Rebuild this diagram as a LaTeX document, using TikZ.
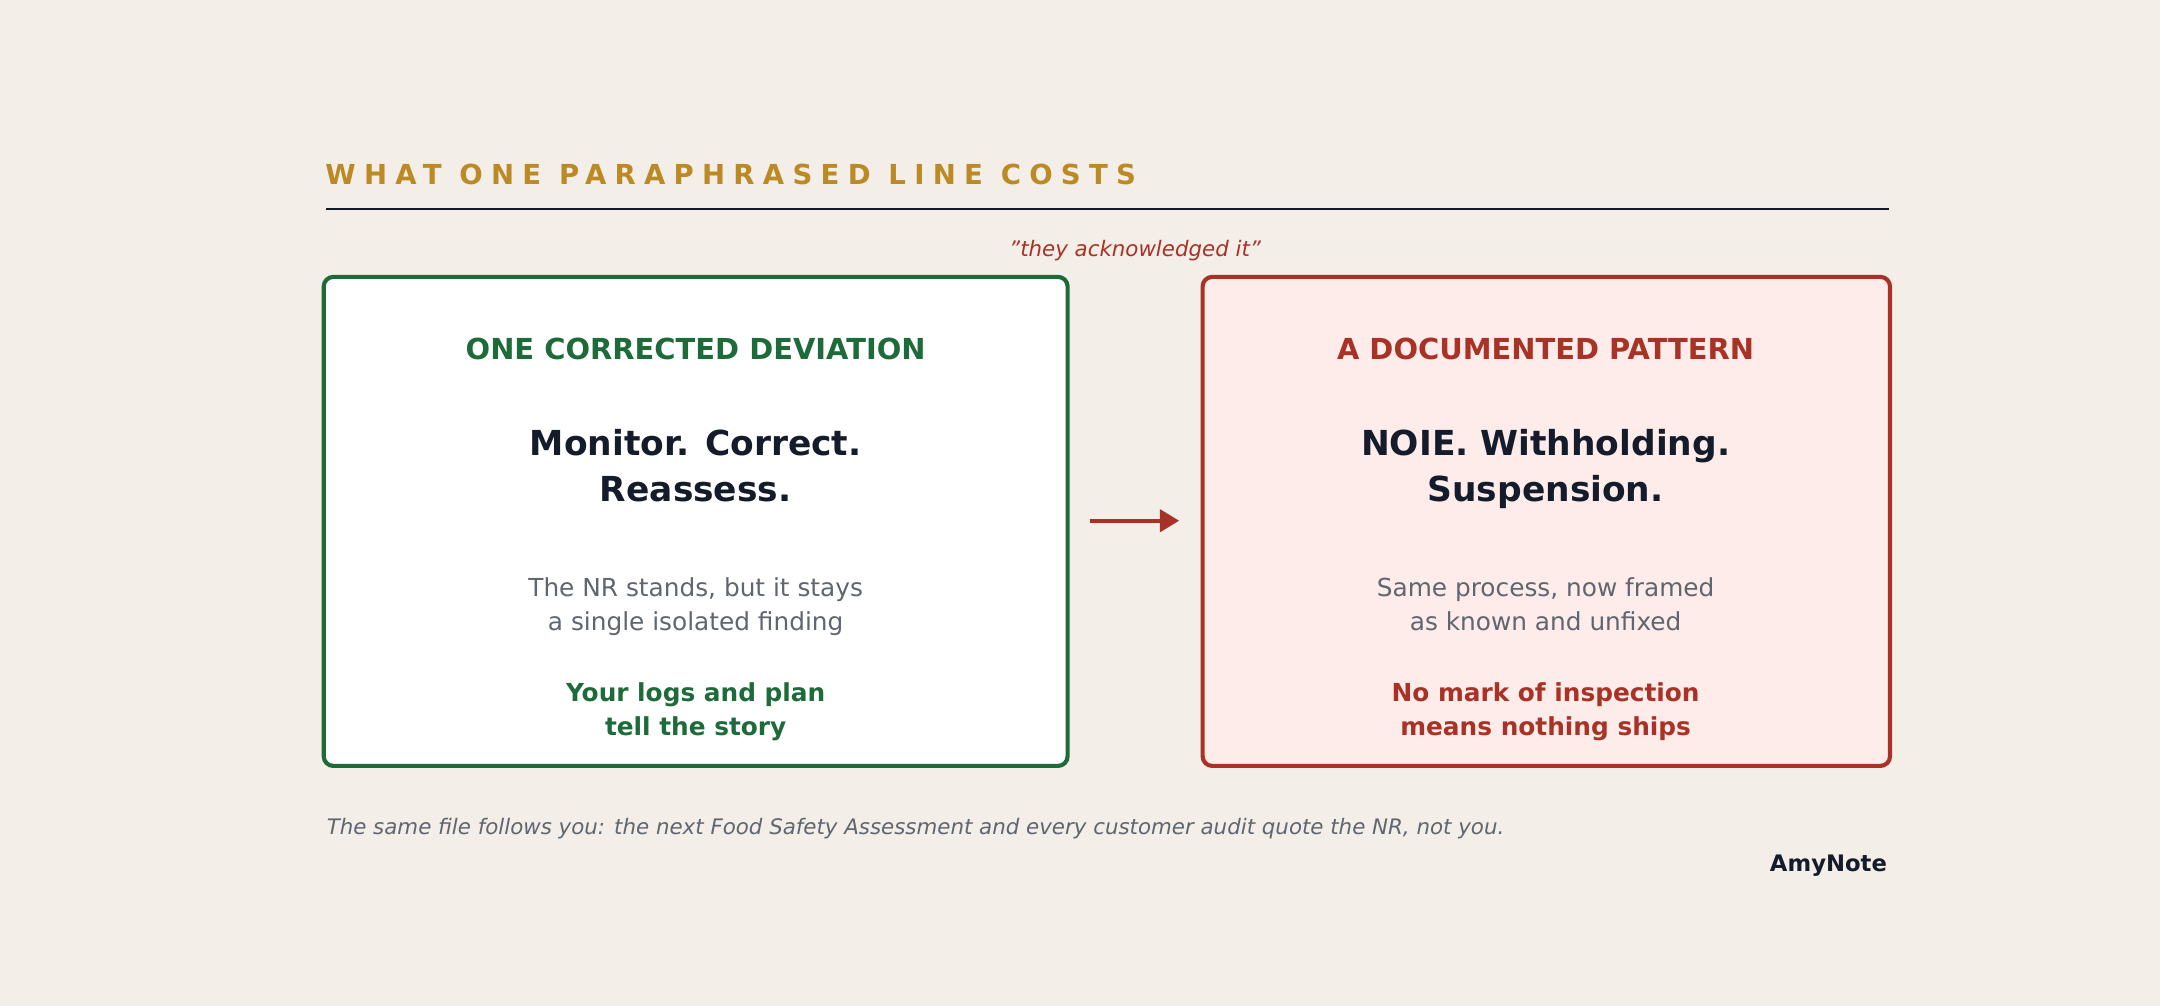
\documentclass[tikz,border=0pt]{standalone}
\usepackage{fontspec}
\setmainfont{DejaVu Sans}
\newfontfamily\spacedfont[LetterSpace=30]{DejaVu Sans}
\definecolor{bg}{HTML}{F3EEE7}
\definecolor{gold}{HTML}{BC8A25}
\definecolor{grn}{HTML}{1E6B3A}
\definecolor{rd}{HTML}{A93226}
\definecolor{pink}{HTML}{FDECEA}
\definecolor{ink}{HTML}{141C2B}
\definecolor{gry}{HTML}{5F6670}
\usetikzlibrary{arrows.meta}
\begin{document}
\begin{tikzpicture}[x=1pt,y=-1pt,
  box/.style={rounded corners=7pt,line width=3pt},
  lbl/.style={anchor=base,inner sep=0},
  head/.style={lbl,font=\fontsize{21}{25}\selectfont\bfseries},
  big/.style={lbl,font=\fontsize{25}{30}\selectfont\bfseries,text=ink},
  sub/.style={lbl,font=\fontsize{18}{22}\selectfont,text=gry},
  tag/.style={lbl,font=\fontsize{18}{22}\selectfont\bfseries}]
\fill[bg] (0,0) rectangle (1568,730);
\useasboundingbox (0,0) rectangle (1568,730);
\node[anchor=base west,inner sep=0,text=gold,font=\spacedfont\fontsize{20}{24}\selectfont\bfseries] (title) at (236,134) {WHAT ONE PARAPHRASED LINE COSTS};
\draw[ink,line width=1.5pt] (237,152) coordinate (r1) -- (1371,152) coordinate (r2);
\node[lbl,text=rd,font=\fontsize{15.5}{20}\selectfont\itshape] (quote) at (824,186) {\symbol{34}they acknowledged it\symbol{34}};
\draw[box,draw=grn,fill=white] (235,201) rectangle (775,556);
\draw[box,draw=rd,fill=pink] (873,201) rectangle (1372,556);
\node[head,text=grn] (h1) at (505,261) {ONE CORRECTED DEVIATION};
\node[head,text=rd] (h2) at (1122,261) {A DOCUMENTED PATTERN};
\node[big] (b1) at (505,331) {Monitor. Correct.};
\node[big] (b1b) at (505,364) {Reassess.};
\node[big] (b2) at (1122,331) {NOIE. Withholding.};
\node[big] (b2b) at (1122,364) {Suspension.};
\node[sub] (s1) at (505,433) {The NR stands, but it stays};
\node[sub] (s1b) at (505,458) {a single isolated finding};
\node[sub] (s2) at (1122,433) {Same process, now framed};
\node[sub] (s2b) at (1122,458) {as known and unfixed};
\node[tag,text=grn] (t1) at (505,509) {Your logs and plan};
\node[tag,text=grn] (t1b) at (505,534) {tell the story};
\node[tag,text=rd] (t2) at (1122,509) {No mark of inspection};
\node[tag,text=rd] (t2b) at (1122,534) {means nothing ships};
\coordinate (a1) at (791,378); \coordinate (a2) at (856,378);
\draw[rd,line width=3pt,-{Triangle[length=14pt,width=16pt]}] (a1) -- (a2);
\node[anchor=base west,inner sep=0,text=gry,font=\fontsize{15.5}{20}\selectfont\itshape] (foot) at (237,606) {The same file follows you: the next Food Safety Assessment and every customer audit quote the NR, not you.};
\node[anchor=base east,inner sep=0,text=ink,font=\fontsize{16.5}{21}\selectfont\bfseries] (brand) at (1370,633) {AmyNote};
\end{tikzpicture}
\end{document}
